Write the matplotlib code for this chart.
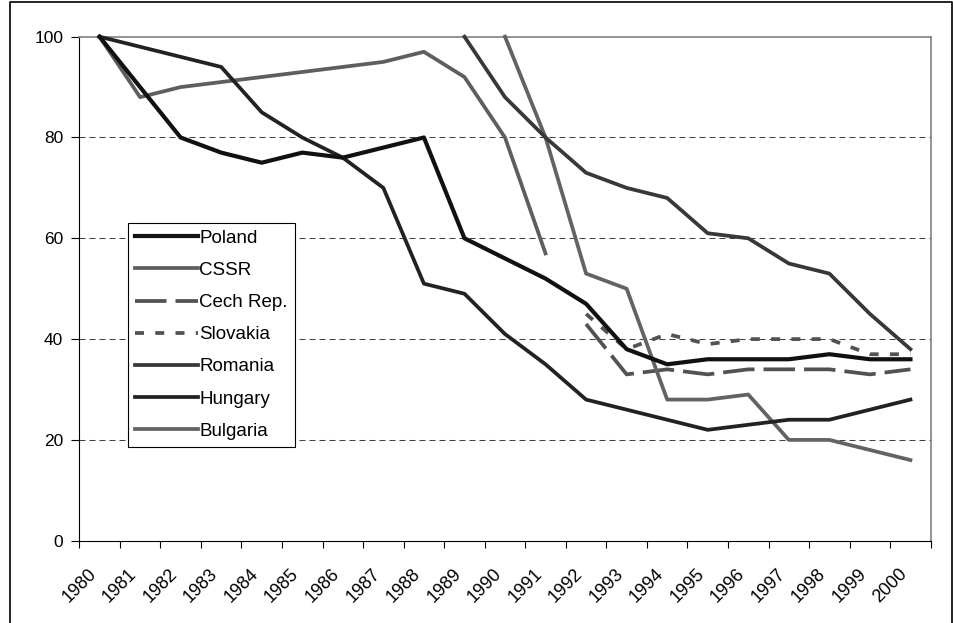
import numpy as np
import matplotlib
matplotlib.use("Agg")
import matplotlib.pyplot as plt
from matplotlib.lines import Line2D
from matplotlib.transforms import ScaledTranslation

plt.rcParams['font.family'] = ['Liberation Sans', 'DejaVu Sans']

nan = np.nan
years = [str(y) for y in range(1980, 2001)]

poland   = [100, 90, 80, 77, 75, 77, 76, 78, 80, 60, 56, 52, 47, 38, 35, 36, 36, 36, 37, 36, 36]
cssr     = [100, 88, 90, 91, 92, 93, 94, 95, 97, 92, 80, 57, nan, nan, nan, nan, nan, nan, nan, nan, nan]
cech     = [nan] * 12 + [43, 33, 34, 33, 34, 34, 34, 33, 34]
slovakia = [nan] * 12 + [45, 38, 41, 39, 40, 40, 40, 37, 37]
romania  = [nan] * 9 + [100, 88, 80, 73, 70, 68, 61, 60, 55, 53, 45, 38]
hungary  = [100, 98, 96, 94, 85, 80, 76, 70, 51, 49, 41, 35, 28, 26, 24, 22, 23, 24, 24, 26, 28]
bulgaria = [nan] * 10 + [100, 80, 53, 50, 28, 28, 29, 20, 20, 18, 16]

fig = plt.figure(figsize=(9.54, 6.23), dpi=100)
ax = fig.add_axes([0.0831, 0.1321, 0.8925, 0.809])

x = np.arange(len(years))

# gridlines
for g in [20, 40, 60, 80]:
    ax.axhline(g, color='#444444', lw=0.75, dashes=(5.8, 3.8), zorder=1)

ax.plot(x, poland, color='#111111', lw=3.0, label='Poland', clip_on=False, zorder=5)
ax.plot(x, cssr, color='#5e5e5e', lw=2.7, label='CSSR', clip_on=False, zorder=3)
ax.plot(x, cech, color='#525252', lw=2.7, ls=(0, (8.4, 2.4)), label='Cech Rep.', clip_on=False, zorder=3)
ax.plot(x, slovakia, color='#525252', lw=2.7, ls=(0, (2.4, 3.0)), label='Slovakia', clip_on=False, zorder=3)
ax.plot(x, romania, color='#383838', lw=2.7, label='Romania', clip_on=False, zorder=4)
ax.plot(x, hungary, color='#222222', lw=2.7, label='Hungary', clip_on=False, zorder=4)
ax.plot(x, bulgaria, color='#636363', lw=2.7, label='Bulgaria', clip_on=False, zorder=3)

ax.set_xlim(-0.5, len(years) - 0.5)
ax.set_ylim(0, 100)
ax.set_yticks([0, 20, 40, 60, 80, 100])
ax.tick_params(axis='y', length=5.5, width=0.8, pad=6, labelsize=12.5)

ax.set_xticks(np.arange(-0.5, len(years)), labels=[''] * (len(years) + 1))
ax.set_xticks(x, labels=years, minor=True)
ax.tick_params(axis='x', which='major', length=5, width=0.8)
ax.tick_params(axis='x', which='minor', length=0, pad=22, labelsize=13)
for lab in ax.get_xticklabels(minor=True):
    lab.set_rotation(45)
    lab.set_ha('right')
    lab.set_va('center')
    lab.set_rotation_mode('anchor')
    lab.set_transform(lab.get_transform() + ScaledTranslation(-0.06, 0, fig.dpi_scale_trans))

ax.spines['left'].set_color('black')
ax.spines['bottom'].set_color('black')
ax.spines['left'].set_linewidth(0.8)
ax.spines['bottom'].set_linewidth(0.8)
ax.spines['top'].set_color('#808080')
ax.spines['right'].set_color('#808080')
ax.spines['top'].set_linewidth(1.2)
ax.spines['right'].set_linewidth(1.2)

leg = ax.legend(loc='upper left', bbox_to_anchor=(0.0576, 0.631), borderaxespad=0,
                fontsize=13.5, handlelength=3.36, handletextpad=0.05, labelspacing=0.8,
                borderpad=0.38, fancybox=False, framealpha=1, edgecolor='black')
leg.get_frame().set_linewidth(0.8)
leg.set_zorder(10)

# outer chart border
l, r, t = 10.5 / 954, 952 / 954, 1 - 1.5 / 623
fig.add_artist(Line2D([l, l, r, r], [0, t, t, 0], transform=fig.transFigure,
                      color='black', lw=1.2))

fig.savefig('out.png', dpi=100)
